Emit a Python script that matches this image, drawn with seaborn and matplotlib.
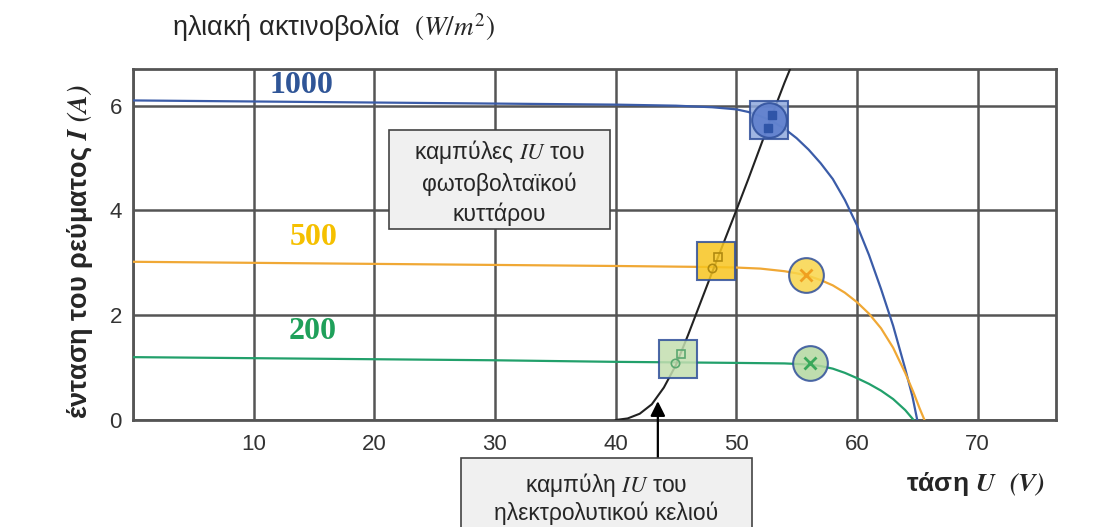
import numpy as np
import pandas as pd
import seaborn as sns
from matplotlib import pyplot as plt
from matplotlib.patches import Rectangle

sns.set_style('white')
plt.rcParams['font.family'] = ['Liberation Sans', 'DejaVu Sans']
plt.rcParams['mathtext.fontset'] = 'stix'

# PV curves (voltage V, current A)
u_1000 = [0, 10, 20, 30, 40, 45, 48, 50, 51, 52, 53, 54, 55, 56, 57, 58, 59, 60, 61, 62, 63, 64, 64.6, 65.0]
i_1000 = [6.10, 6.08, 6.06, 6.04, 6.02, 6.00, 5.97, 5.93, 5.88, 5.80, 5.70, 5.56, 5.38, 5.16, 4.90, 4.60, 4.20, 3.72, 3.15, 2.50, 1.80, 0.98, 0.45, 0.0]

u_500 = [0, 10, 20, 30, 40, 48, 50, 52, 54, 55, 56, 57, 58, 59, 60, 61, 62, 63, 64, 64.7, 65.2, 65.6]
i_500 = [3.02, 3.00, 2.98, 2.96, 2.94, 2.92, 2.91, 2.89, 2.84, 2.80, 2.75, 2.67, 2.57, 2.43, 2.25, 2.03, 1.75, 1.38, 0.90, 0.52, 0.22, 0.0]

u_200 = [0, 10, 20, 30, 40, 45, 50, 54, 56, 57, 58, 59, 60, 61, 62, 63, 64, 64.7]
i_200 = [1.20, 1.18, 1.16, 1.14, 1.11, 1.10, 1.09, 1.08, 1.06, 1.03, 0.98, 0.90, 0.80, 0.69, 0.56, 0.40, 0.19, 0.0]

# electrolytic cell curve
u_cell = [40.0, 41.0, 42.0, 43.0, 44.0, 45.0, 46.0, 47.0, 48.0, 49.0, 50.0, 51.0, 52.0, 53.0, 54.0, 54.5]
i_cell = [0.0, 0.03, 0.12, 0.30, 0.62, 1.05, 1.62, 2.22, 2.82, 3.41, 4.00, 4.60, 5.22, 5.84, 6.44, 6.72]

# operating points (squares) and max power points (circles)
op_u = [52.75, 48.3, 45.2]
op_i = [5.72, 3.03, 1.17]
mpp_u = [52.75, 55.75, 56.1]
mpp_i = [5.72, 2.77, 1.09]

levels = ['1000', '500', '200']
line_colors = ['#3b5ca8', '#f0a835', '#22a06b']
label_colors = ['#2f5597', '#f5c000', '#1fa05a']
label_u = [14.0, 15.0, 14.9]
label_i = [6.39, 3.48, 1.68]

x_ticks = [0, 10, 20, 30, 40, 50, 60, 70]
x_ticklabels = ['', '10', '20', '30', '40', '50', '60', '70']
y_ticks = [0, 2, 4, 6]

fig = plt.figure(figsize=(10.94, 5.27), dpi=100)
ax = fig.add_axes([133/1094, 107/527, (1056-133)/1094, (420-69)/527])

curves = [(u_1000, i_1000), (u_500, i_500), (u_200, i_200)]
for (u, i), c in zip(curves, line_colors):
    df = pd.DataFrame({'U': u, 'I': i})
    sns.lineplot(data=df, x='U', y='I', ax=ax, color=c, lw=1.6, sort=False, estimator=None, zorder=3)

cell_df = pd.DataFrame({'U': u_cell, 'I': i_cell})
sns.lineplot(data=cell_df, x='U', y='I', ax=ax, color='#222222', lw=1.5, sort=False, estimator=None, zorder=4)

# square markers at intersections
sq_fill = ['#8fa9dd', '#f7c520', '#c3deb0']
for u, i, f in zip(op_u, op_i, sq_fill):
    ax.plot(u, i, marker='s', ms=27, mfc=f, mec='#2f4f9a', mew=1.5, alpha=0.85, ls='none', zorder=5)
# circles
circ_fill = ['#5b7ccc', '#f9d54a', '#b4d8a0']
for u, i, f in zip(mpp_u, mpp_i, circ_fill):
    ax.plot(u, i, marker='o', ms=25, mfc=f, mec='#2f4f9a', mew=1.5, alpha=0.85, ls='none', zorder=6)
# small inner markers
ax.plot([52.6, 53.0], [5.58, 5.82], marker='s', ms=6, mfc='#2f55a8', mec='#2f55a8', ls='none', zorder=7)
ax.plot([48.0], [2.90], marker='o', ms=6, mfc='none', mec='#b08a10', mew=1.2, ls='none', zorder=7)
ax.plot([48.5], [3.12], marker='s', ms=6, mfc='none', mec='#b08a10', mew=1.2, ls='none', zorder=7)
ax.plot([44.9], [1.08], marker='o', ms=6, mfc='none', mec='#5aa870', mew=1.2, ls='none', zorder=7)
ax.plot([45.4], [1.26], marker='s', ms=6, mfc='none', mec='#5aa870', mew=1.2, ls='none', zorder=7)
ax.plot([55.75], [2.77], marker='x', ms=9, mec='#f0a020', mew=2, ls='none', zorder=7)
ax.plot([56.1], [1.09], marker='x', ms=9, mec='#3aa85a', mew=2, ls='none', zorder=7)

for t, u, i, c in zip(levels, label_u, label_i, label_colors):
    ax.text(u, i, t, color=c, fontsize=23, fontweight='bold', family='Liberation Serif',
            ha='center', va='center', zorder=8)

ax.set_xlim(0.2, 76.5)
ax.set_ylim(0, 6.7)
ax.set_xticks(x_ticks)
ax.set_xticklabels(x_ticklabels)
ax.set_yticks(y_ticks)
ax.tick_params(length=0, labelsize=16, labelcolor='#333333')
ax.tick_params(axis='x', pad=10)
ax.tick_params(axis='y', pad=8)
ax.grid(True, color='#555555', lw=1.8, zorder=0)
ax.set_axisbelow(True)
for s in ax.spines.values():
    s.set_color('#555555')
    s.set_linewidth(2)

ax.set_xlabel(r'τάση $\mathbfit{U}$  $\mathbfit{(V)}$', fontsize=19, fontweight='bold')
ax.xaxis.set_label_coords((1045-133)/923, (420-484)/351)
ax.xaxis.label.set_ha('right')
ax.xaxis.label.set_va('center')
ax.set_ylabel(r'ένταση του ρεύματος $\mathbfit{I}$ $\mathbfit{(A)}$', fontsize=19.5, fontweight='bold')
ax.yaxis.set_label_coords((80-133)/923, 0.48)
ax.yaxis.label.set_va('center')

fig.text(172/1094, 1-28/527, r'ηλιακή ακτινοβολία  $(W/m^2)$', fontsize=19.5, va='center', ha='left')

# upper annotation box (PV curves)
ax.add_patch(Rectangle((21.2, 3.65), 18.3, 1.88, fc='#f0f0f0', ec='#444444', lw=1.2, zorder=9))
ax.text(30.35, 4.55, 'καμπύλες $IU$ του\nφωτοβολταϊκού\nκυττάρου', fontsize=16.5, ha='center', va='center',
        linespacing=1.35, zorder=10)

# lower annotation box (electrolytic cell)
fig.patches.append(Rectangle((461/1094, -0.05), (752-461)/1094, (527-458)/527+0.05, transform=fig.transFigure,
                             fc='#f0f0f0', ec='#444444', lw=1.2, figure=fig))
fig.text(606/1094, 1-498/527, 'καμπύλη $IU$ του\nηλεκτρολυτικού κελιού', fontsize=16.5, ha='center', va='center',
         linespacing=1.1)

ax.annotate('', xy=(43.5, 0.36), xytext=(43.5, -0.73),
            arrowprops=dict(arrowstyle='-|>', color='black', lw=1.6, mutation_scale=22, shrinkA=0, shrinkB=0),
            annotation_clip=False, zorder=10)

fig.savefig('out.png', dpi=100)
